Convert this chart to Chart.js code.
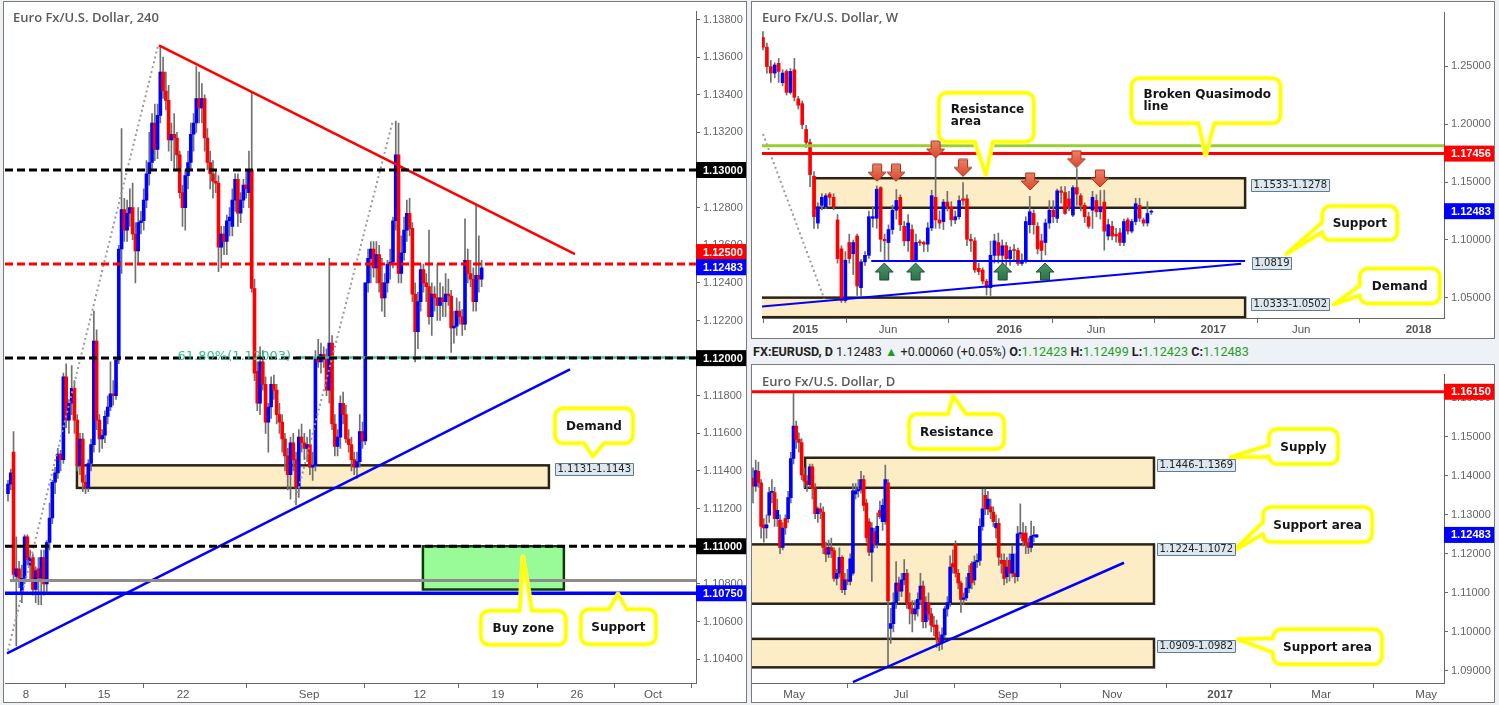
<!DOCTYPE html>
<html>
<head>
<meta charset="utf-8">
<title>EURUSD</title>
<script src="https://cdn.jsdelivr.net/npm/chart.js"></script>
<style>
  html, body { margin: 0; padding: 0; background: #eef2f6; }
  body { width: 1499px; height: 705px; position: relative; overflow: hidden; }
  .panel { position: absolute; background: #fff; border: 1px solid #7a7a7a; }
  .panel canvas { position: absolute; left: 0; top: 0; }
  #p1 { left: 3px; top: 1px; width: 742px; height: 700px; }
  #p2 { left: 751px; top: 1px; width: 742px; height: 336px; }
  #p3 { left: 751px; top: 364px; width: 742px; height: 337px; }
  #hdr { position: absolute; left: 753px; top: 344px; font: 12.6px Roboto, sans-serif; color: #222; white-space: nowrap; }
  #hdr b { font-weight: 700; }
  #hdr .g { color: #1f9e1f; }
</style>
</head>
<body>
<div class="panel" id="p1"><canvas id="c1" width="742" height="700"></canvas></div>
<div class="panel" id="p2"><canvas id="c2" width="742" height="336"></canvas></div>
<div id="hdr"><b>FX:EURUSD, D</b> 1.12483 <span class="g">&#9650;</span> +0.00060 (+0.05%) <b>O:</b><span class="g">1.12423</span> <b>H:</b><span class="g">1.12499</span> <b>L:</b><span class="g">1.12423</span> <b>C:</b><span class="g">1.12483</span></div>
<div class="panel" id="p3"><canvas id="c3" width="742" height="337"></canvas></div>
<script>
// ---------- 4H candles [open, high, low, close] ----------
const h4Aug05 = [
  [1.1128,1.1135,1.1124,1.1133],[1.1133,1.1141,1.1130,1.1139],[1.1150,1.1161,1.1082,1.1085],
  [1.1084,1.1105,1.1047,1.1088],[1.1088,1.1092,1.1078,1.1083],[1.1076,1.1090,1.1070,1.1083],
  [1.1083,1.1106,1.1080,1.1105],[1.1105,1.1106,1.1090,1.1093],[1.1090,1.1098,1.1082,1.1094],
  [1.1094,1.1096,1.1074,1.1077],[1.1077,1.1089,1.1070,1.1087],[1.1088,1.1094,1.1069,1.1083],
  [1.1083,1.1098,1.1069,1.1094],[1.1094,1.1098,1.1074,1.1080],[1.1080,1.1103,1.1076,1.1102],
  [1.1102,1.1123,1.1098,1.1115],[1.1115,1.1135,1.1112,1.1134],[1.1134,1.1142,1.1128,1.1139],
  [1.1139,1.1152,1.1136,1.1149],[1.1149,1.1151,1.1140,1.1146],[1.1146,1.1192,1.1144,1.1190],
  [1.1190,1.1197,1.1163,1.1167],[1.1167,1.1178,1.1160,1.1176],[1.1176,1.1196,1.1170,1.1184],
  [1.1184,1.1188,1.1160,1.1167],[1.1167,1.1170,1.1140,1.1143],[1.1143,1.1160,1.1138,1.1157],
  [1.1157,1.1160,1.1129,1.1134],[1.1134,1.1138,1.1128,1.1131],[1.1131,1.1146,1.1129,1.1144]
];
const h4Aug12 = [
  [1.1144,1.1157,1.1140,1.1154],[1.1154,1.1225,1.1150,1.1209],[1.1209,1.1215,1.1162,1.1167],
  [1.1167,1.1170,1.1150,1.1157],[1.1157,1.1162,1.1152,1.1159],[1.1159,1.1172,1.1155,1.1169],
  [1.1169,1.1180,1.1165,1.1174],[1.1174,1.1198,1.1172,1.1181],[1.1181,1.1188,1.1175,1.1180],
  [1.1180,1.1200,1.1178,1.1199],[1.1199,1.1260,1.1197,1.1258],[1.1258,1.1322,1.1245,1.1279],
  [1.1279,1.1285,1.1262,1.1268],[1.1268,1.1284,1.1262,1.1277],[1.1277,1.1290,1.1270,1.1280],
  [1.1280,1.1293,1.1263,1.1266],[1.1266,1.1272,1.1240,1.1257],[1.1257,1.1280,1.1250,1.1272],
  [1.1272,1.1278,1.1266,1.1273],[1.1273,1.1290,1.1268,1.1284],[1.1284,1.1305,1.1280,1.1298],
  [1.1298,1.1320,1.1292,1.1304],[1.1304,1.1330,1.1300,1.1325],[1.1325,1.1335,1.1305,1.1311],
  [1.1311,1.1335,1.1306,1.1329],[1.1329,1.1366,1.1325,1.1352],[1.1352,1.1360,1.1338,1.1342],
  [1.1342,1.1352,1.1332,1.1337],[1.1337,1.1345,1.1310,1.1316],[1.1316,1.1325,1.1305,1.1319]
];
const h4Aug19 = [
  [1.1319,1.1330,1.1300,1.1317],[1.1317,1.1320,1.1300,1.1308],[1.1308,1.1310,1.1285,1.1288],
  [1.1288,1.1292,1.1270,1.1280],[1.1280,1.1300,1.1268,1.1297],[1.1297,1.1310,1.1290,1.1304],
  [1.1304,1.1325,1.1300,1.1319],[1.1319,1.1330,1.1310,1.1325],[1.1325,1.1355,1.1320,1.1338],
  [1.1338,1.1352,1.1325,1.1333],[1.1333,1.1346,1.1325,1.1338],[1.1338,1.1340,1.1310,1.1317],
  [1.1317,1.1322,1.1300,1.1304],[1.1304,1.1310,1.1290,1.1298],[1.1298,1.1305,1.1285,1.1294],
  [1.1294,1.1300,1.1288,1.1293],[1.1293,1.1297,1.1246,1.1259],[1.1259,1.1270,1.1248,1.1266],
  [1.1266,1.1270,1.1255,1.1262],[1.1262,1.1276,1.1255,1.1273],[1.1273,1.1280,1.1265,1.1275],
  [1.1270,1.1290,1.1265,1.1284],[1.1284,1.1298,1.1278,1.1295],[1.1295,1.1298,1.1270,1.1277],
  [1.1277,1.1288,1.1272,1.1284],[1.1284,1.1295,1.1280,1.1292],[1.1292,1.1300,1.1285,1.1290],
  [1.1288,1.1310,1.1280,1.1300],[1.1300,1.1341,1.1235,1.1237],[1.1237,1.1242,1.1188,1.1192]
];
const h4Aug29 = [
  [1.1193,1.1198,1.1172,1.1176],[1.1176,1.1206,1.1170,1.1198],[1.1198,1.1204,1.1183,1.1186],
  [1.1186,1.1190,1.1160,1.1166],[1.1166,1.1176,1.1150,1.1174],[1.1174,1.1190,1.1168,1.1186],
  [1.1186,1.1191,1.1178,1.1183],[1.1183,1.1186,1.1165,1.1170],[1.1170,1.1176,1.1160,1.1166],
  [1.1166,1.1170,1.1150,1.1157],[1.1157,1.1160,1.1140,1.1148],[1.1148,1.1152,1.1130,1.1138],
  [1.1138,1.1158,1.1125,1.1155],[1.1155,1.1160,1.1140,1.1146],[1.1146,1.1150,1.1122,1.1131],
  [1.1131,1.1162,1.1126,1.1158],[1.1158,1.1165,1.1150,1.1155],[1.1155,1.1160,1.1146,1.1152],
  [1.1152,1.1158,1.1145,1.1154],[1.1154,1.1162,1.1138,1.1142],[1.1142,1.1150,1.1135,1.1143],
  [1.1143,1.1204,1.1140,1.1200],[1.1200,1.1210,1.1195,1.1198],[1.1198,1.1208,1.1192,1.1202],
  [1.1202,1.1206,1.1195,1.1200],[1.1200,1.1205,1.1180,1.1183],[1.1183,1.1253,1.1176,1.1208],
  [1.1208,1.1212,1.1162,1.1165],[1.1165,1.1170,1.1148,1.1153],[1.1153,1.1162,1.1148,1.1158]
];
const h4Sep05 = [
  [1.1158,1.1180,1.1152,1.1176],[1.1176,1.1182,1.1165,1.1170],[1.1170,1.1175,1.1155,1.1157],
  [1.1157,1.1162,1.1150,1.1154],[1.1154,1.1158,1.1140,1.1146],[1.1146,1.1150,1.1138,1.1142],
  [1.1142,1.1150,1.1136,1.1145],[1.1145,1.1170,1.1142,1.1161],[1.1161,1.1166,1.1152,1.1156],
  [1.1156,1.1240,1.1154,1.1240],[1.1240,1.1258,1.1235,1.1253],[1.1253,1.1262,1.1240,1.1258],
  [1.1258,1.1262,1.1243,1.1248],[1.1248,1.1262,1.1240,1.1255],[1.1255,1.1260,1.1235,1.1240],
  [1.1240,1.1253,1.1225,1.1232],[1.1232,1.1245,1.1222,1.1240],[1.1240,1.1252,1.1235,1.1250],
  [1.1250,1.1258,1.1242,1.1251],[1.1251,1.1275,1.1248,1.1273],[1.1273,1.1326,1.1268,1.1308],
  [1.1308,1.1325,1.1240,1.1245],[1.1245,1.1265,1.1240,1.1256],[1.1256,1.1275,1.1252,1.1268],
  [1.1268,1.1284,1.1262,1.1277],[1.1277,1.1285,1.1265,1.1269],[1.1269,1.1272,1.1230,1.1234],
  [1.1234,1.1240,1.1198,1.1214],[1.1214,1.1235,1.1205,1.1230],[1.1230,1.1250,1.1225,1.1247]
];
const h4Sep12 = [
  [1.1247,1.1250,1.1235,1.1240],[1.1240,1.1245,1.1230,1.1238],[1.1238,1.1268,1.1218,1.1222],
  [1.1222,1.1240,1.1212,1.1234],[1.1234,1.1238,1.1225,1.1232],[1.1232,1.1250,1.1220,1.1228],
  [1.1228,1.1240,1.1220,1.1232],[1.1232,1.1238,1.1222,1.1230],[1.1230,1.1245,1.1222,1.1234],
  [1.1234,1.1242,1.1228,1.1233],[1.1233,1.1236,1.1203,1.1216],[1.1216,1.1225,1.1208,1.1217],
  [1.1217,1.1232,1.1212,1.1225],[1.1225,1.1230,1.1218,1.1222],[1.1222,1.1226,1.1212,1.1218],
  [1.1218,1.1274,1.1215,1.1252],[1.1252,1.1258,1.1240,1.1245],[1.1245,1.1252,1.1238,1.1242],
  [1.1242,1.1248,1.1225,1.1230],[1.1230,1.1282,1.1225,1.1244],[1.1244,1.1265,1.1235,1.1242],
  [1.1242,1.1252,1.1238,1.1248]
];
const h4TickPos = [6.5, 34.7, 63.2, 108.7, 148.7, 176.9, 205.4, 232.9];
const h4TickText = ['8', '15', '22', 'Sep', '12', '19', '26', 'Oct'];
const h4PriceTicks = [1.104, 1.106, 1.108, 1.110, 1.112, 1.114, 1.116, 1.118, 1.120,
  1.122, 1.124, 1.126, 1.128, 1.130, 1.132, 1.134, 1.136, 1.138];
const h4DashLevels = [1.1300, 1.1250, 1.1200, 1.1100];
const h4Fib618 = 1.12003;
const h4GrayLevel = 1.10818;
const h4Support = 1.1075;
const h4TrendDown = [[54.5, 1.13663], [204.7, 1.12553]];
const h4TrendUp = [[-0.36, 1.10430], [202.9, 1.11940]];
const h4FibA = [[0, 1.10446], [54.2, 1.13663]];
const h4FibB = [[103.6, 1.11232], [139.0, 1.13265]];
const h4Zones = [[24.9, 195.3, 1.1131, 1.1143], [149.8, 200.7, 1.1077, 1.1100]];

// ---------- weekly candles ----------
const wk2014 = [
  [1.2748,1.2800,1.2640,1.2664],[1.2664,1.2700,1.2440,1.2497],[1.2497,1.2550,1.2360,1.2441],
  [1.2441,1.2530,1.2400,1.2511],[1.2525,1.2567,1.2360,1.2455],[1.2358,1.2470,1.2330,1.2441],
  [1.2455,1.2470,1.2250,1.2274],[1.2274,1.2480,1.2260,1.2455],[1.2469,1.2567,1.2200,1.2232],
  [1.2218,1.2240,1.2130,1.2163],[1.2177,1.2200,1.1960,1.1996],[1.1954,1.1990,1.1800,1.1842],
  [1.1842,1.1870,1.1460,1.1564],[1.1550,1.1590,1.1100,1.1201],[1.1146,1.1320,1.1100,1.1285],
  [1.1299,1.1400,1.1260,1.1368],[1.1285,1.1400,1.1270,1.1382],[1.1396,1.1410,1.1300,1.1368],
  [1.1368,1.1400,1.1260,1.1285],[1.1173,1.1220,1.0800,1.0839],[1.0923,1.0950,1.0460,1.0477],
  [1.0477,1.0900,1.0460,1.0825],[1.0978,1.1050,1.0800,1.0839],[1.0881,1.1000,1.0700,1.0978],
  [1.1034,1.1050,1.0520,1.0602]
];
const wk2015a = [
  [1.0588,1.0830,1.0520,1.0811],[1.0811,1.0900,1.0780,1.0867],[1.0867,1.1250,1.0840,1.1201],
  [1.1187,1.1290,1.1110,1.1201],[1.1187,1.1467,1.1100,1.1438],[1.1452,1.1460,1.0900,1.1006],
  [1.1006,1.1050,1.0819,1.0992],[1.0978,1.1130,1.0820,1.1090],[1.1090,1.1300,1.1050,1.1257],
  [1.1257,1.1436,1.1180,1.1341],[1.1368,1.1390,1.1080,1.1132],[1.1118,1.1160,1.0950,1.0992],
  [1.0992,1.1220,1.0900,1.1146],[1.1090,1.1130,1.0810,1.0825],[1.0825,1.1050,1.0810,1.0978],
  [1.0985,1.1000,1.0950,1.0975],[1.0978,1.0990,1.0900,1.0964],[1.0964,1.1150,1.0900,1.1104],
  [1.1104,1.1430,1.1080,1.1382],[1.1368,1.1714,1.1100,1.1173],[1.1173,1.1250,1.1100,1.1146],
  [1.1159,1.1350,1.1090,1.1327],[1.1327,1.1420,1.1250,1.1285],[1.1285,1.1330,1.1120,1.1173],
  [1.1173,1.1250,1.1140,1.1201]
];
const wk2015b = [
  [1.1201,1.1380,1.1180,1.1341],[1.1355,1.1495,1.1300,1.1341],[1.1355,1.1390,1.0950,1.1006],
  [1.1006,1.1050,1.0900,1.0992],[1.0992,1.1020,1.0720,1.0741],[1.0755,1.0800,1.0700,1.0727],
  [1.0741,1.0760,1.0620,1.0644],[1.0644,1.0660,1.0524,1.0588],[1.0588,1.0990,1.0520,1.0867],
  [1.0867,1.1050,1.0800,1.0992],[1.0978,1.1060,1.0800,1.0867],[1.0867,1.1000,1.0710,1.0950],
  [1.0950,1.0980,1.0780,1.0839],[1.0839,1.0940,1.0780,1.0909],[1.0917,1.0960,1.0820,1.0909],
  [1.0909,1.0930,1.0780,1.0797],[1.0797,1.0880,1.0780,1.0825],[1.0825,1.1200,1.0800,1.1159],
  [1.1132,1.1376,1.1060,1.1243],[1.1229,1.1260,1.1050,1.1132],[1.1118,1.1150,1.0880,1.0923],
  [1.0992,1.1050,1.0822,1.0909],[1.0978,1.1180,1.0870,1.1146],[1.1146,1.1340,1.1100,1.1257],
  [1.1257,1.1340,1.1150,1.1201]
];
const wk2016 = [
  [1.1187,1.1440,1.1150,1.1424],[1.1424,1.1460,1.1320,1.1410],[1.1410,1.1460,1.1220,1.1229],
  [1.1355,1.1420,1.1250,1.1285],[1.1215,1.1470,1.1200,1.1452],[1.1452,1.1616,1.1300,1.1396],
  [1.1382,1.1400,1.1250,1.1299],[1.1299,1.1320,1.1150,1.1201],[1.1201,1.1240,1.1100,1.1118],
  [1.1257,1.1420,1.1100,1.1368],[1.1341,1.1390,1.1200,1.1243],[1.1243,1.1427,1.1180,1.1285],
  [1.1327,1.1430,1.0912,1.1076],[1.1034,1.1180,1.1000,1.1132],[1.1118,1.1160,1.1000,1.1034],
  [1.1048,1.1100,1.0980,1.1034],[1.1062,1.1100,1.0950,1.0978],[1.0978,1.1180,1.0950,1.1159],
  [1.1173,1.1190,1.1050,1.1076],[1.1076,1.1180,1.1060,1.1159],[1.1159,1.1360,1.1130,1.1313],
  [1.1299,1.1360,1.1160,1.1187],[1.1173,1.1190,1.1120,1.1146],[1.1146,1.1330,1.1120,1.1229],
  [1.1240,1.1260,1.1220,1.1248]
];
const wkTickPos = [10.8, 31.9, 62.8, 84.9, 114.8, 137.2, 167.1];
const wkTickText = ['2015', 'Jun', '2016', 'Jun', '2017', 'Jun', '2018'];
const wkPriceTicks = [1.05, 1.10, 1.15, 1.20, 1.25];
const wkGreenLevel = 1.1814;
const wkRedLevel = 1.17456;
const wkSupport = [[27.6, 1.0819], [122.9, 1.0819]];
const wkTrend = [[-0.25, 1.04264], [121.9, 1.07943]];
const wkFib = [[0, 1.19147], [15.6, 1.04933]];
const wkZones = [[13.1, 122.9, 1.1278, 1.1533], [-2, 122.9, 1.0333, 1.0502]];
const wkDownArrows = [[29.1, 1.15803], [33.9, 1.15803], [44.0, 1.17809], [51.0, 1.16221],
  [68.1, 1.15050], [79.9, 1.16973], [85.9, 1.15301]];
const wkUpArrows = [[30.9, 1.07274], [38.9, 1.07274], [61.1, 1.07274], [71.9, 1.07274]];

// ---------- daily candles ----------
const dAprMay = [
  [1.1394,1.1420,1.1330,1.1373],[1.1373,1.1440,1.1360,1.1413],[1.1411,1.1435,1.1370,1.1382],
  [1.1382,1.1390,1.1240,1.1270],[1.1274,1.1290,1.1230,1.1266],[1.1266,1.1300,1.1240,1.1274],
  [1.1299,1.1370,1.1280,1.1357],[1.1357,1.1390,1.1330,1.1360],[1.1357,1.1370,1.1270,1.1290],
  [1.1290,1.1340,1.1270,1.1311],[1.1286,1.1300,1.1200,1.1216],[1.1216,1.1280,1.1210,1.1266],
  [1.1290,1.1300,1.1250,1.1266],[1.1290,1.1360,1.1280,1.1344],[1.1344,1.1460,1.1330,1.1444],
  [1.1444,1.1614,1.1430,1.1527],[1.1527,1.1540,1.1470,1.1493],[1.1493,1.1510,1.1460,1.1485],
  [1.1485,1.1495,1.1390,1.1402],[1.1402,1.1420,1.1370,1.1386],[1.1386,1.1400,1.1360,1.1377],
  [1.1377,1.1430,1.1370,1.1423],[1.1423,1.1430,1.1340,1.1369],[1.1369,1.1380,1.1290,1.1303],
  [1.1303,1.1320,1.1280,1.1315],[1.1315,1.1330,1.1290,1.1307],[1.1307,1.1320,1.1200,1.1216]
];
const dMayJun = [
  [1.1216,1.1230,1.1180,1.1199],[1.1199,1.1235,1.1190,1.1216],[1.1216,1.1240,1.1190,1.1208],
  [1.1208,1.1215,1.1130,1.1137],[1.1137,1.1160,1.1120,1.1150],[1.1150,1.1215,1.1140,1.1191],
  [1.1191,1.1195,1.1100,1.1108],[1.1108,1.1150,1.1095,1.1133],[1.1133,1.1160,1.1120,1.1129],
  [1.1129,1.1200,1.1120,1.1187],[1.1150,1.1380,1.1145,1.1361],[1.1353,1.1380,1.1340,1.1361],
  [1.1361,1.1390,1.1345,1.1365],[1.1365,1.1411,1.1355,1.1390],[1.1390,1.1400,1.1310,1.1324],
  [1.1330,1.1340,1.1230,1.1241],[1.1282,1.1290,1.1195,1.1204],[1.1204,1.1280,1.1129,1.1266],
  [1.1257,1.1265,1.1215,1.1224],[1.1224,1.1305,1.1215,1.1270],[1.1311,1.1335,1.1290,1.1295],
  [1.1282,1.1340,1.1260,1.1324],[1.1282,1.1427,1.1275,1.1390],[1.1382,1.1390,1.0912,1.1079],
  [1.1009,1.1060,1.0970,1.1021],[1.1021,1.1100,1.1000,1.1075],[1.1075,1.1180,1.1060,1.1125]
];
const dJulAug = [
  [1.1125,1.1140,1.1080,1.1104],[1.1104,1.1150,1.1090,1.1133],[1.1133,1.1185,1.1120,1.1150],
  [1.1150,1.1160,1.1060,1.1075],[1.1075,1.1100,1.1020,1.1059],[1.1059,1.1080,1.1000,1.1046],
  [1.1046,1.1080,1.1030,1.1059],[1.1059,1.1100,1.1040,1.1083],[1.1083,1.1150,1.1070,1.1117],
  [1.1117,1.1130,1.1010,1.1026],[1.1026,1.1090,1.1010,1.1075],[1.1075,1.1100,1.1030,1.1046],
  [1.1046,1.1060,1.1000,1.1017],[1.1017,1.1040,1.0990,1.1013],[1.1017,1.1030,1.0960,1.0984],
  [1.0984,1.1000,1.0952,1.0972],[1.0972,1.1010,1.0955,1.0992],[1.0992,1.1065,1.0985,1.1059],
  [1.1059,1.1090,1.1040,1.1075],[1.1075,1.1195,1.1065,1.1166],[1.1175,1.1210,1.1150,1.1166],
  [1.1224,1.1233,1.1140,1.1150],[1.1150,1.1160,1.1110,1.1125],[1.1125,1.1130,1.1050,1.1083],
  [1.1083,1.1100,1.1070,1.1087],[1.1087,1.1140,1.1080,1.1112],[1.1112,1.1170,1.1100,1.1150]
];
const dAugSep = [
  [1.1175,1.1180,1.1110,1.1125],[1.1133,1.1195,1.1120,1.1179],[1.1179,1.1200,1.1165,1.1183],
  [1.1183,1.1290,1.1170,1.1270],[1.1270,1.1365,1.1260,1.1315],[1.1350,1.1366,1.1300,1.1315],
  [1.1315,1.1360,1.1300,1.1340],[1.1320,1.1340,1.1290,1.1307],[1.1307,1.1320,1.1270,1.1282],
  [1.1266,1.1300,1.1240,1.1278],[1.1278,1.1290,1.1170,1.1191],[1.1183,1.1200,1.1150,1.1175],
  [1.1183,1.1200,1.1120,1.1137],[1.1141,1.1190,1.1125,1.1166],[1.1183,1.1200,1.1130,1.1150],
  [1.1150,1.1220,1.1140,1.1199],[1.1150,1.1200,1.1125,1.1141],[1.1141,1.1270,1.1130,1.1251],
  [1.1251,1.1328,1.1240,1.1253],[1.1253,1.1280,1.1220,1.1233],[1.1253,1.1270,1.1200,1.1228],
  [1.1228,1.1240,1.1200,1.1216],[1.1216,1.1284,1.1205,1.1245],[1.1245,1.1270,1.1230,1.1245],
  [1.12423,1.12499,1.12423,1.12483]
];
const dTickPos = [15.2, 54.8, 94.4, 133.0, 173.0, 210.4, 249.3];
const dTickText = ['May', 'Jul', 'Sep', 'Nov', '2017', 'Mar', 'May'];
const dPriceTicks = [1.09, 1.10, 1.11, 1.12, 1.13, 1.14, 1.15, 1.16];
const dResistance = 1.1615;
const dTrend = [[37.0, 1.08714], [137.4, 1.11770]];
const dZones = [[19.3, 148.5, 1.1369, 1.1446], [-2, 148.5, 1.1072, 1.1224], [-2, 148.5, 1.0909, 1.0982]];

const lastClose = 1.12483;

// ---------- drawing helpers ----------
const RED = '#ff0000', BLUE = '#0000ff', WICK = '#707070';
Chart.defaults.font.family = '"Liberation Sans", Arial, sans-serif';

function candleSets(candles, body) {
  return [
    { type: 'bar', order: 6, grouped: false, barThickness: 1, backgroundColor: WICK,
      data: candles.map((c, i) => ({ x: i, y: [c[2], c[1]] })) },
    { type: 'bar', order: 5, grouped: false, barThickness: body, minBarLength: 1,
      backgroundColor: candles.map(c => (c[3] >= c[0] ? BLUE : RED)),
      data: candles.map((c, i) => ({ x: i, y: [c[0], c[3]] })) }
  ];
}

function lineSet(pts, color, width, dash) {
  return { type: 'line', order: 1, data: pts.map(p => ({ x: p[0], y: p[1] })),
    borderColor: color, borderWidth: width, borderDash: dash || [], pointRadius: 0, fill: false };
}

function arrowImg(dir, c1, c2, edge) {
  const cv = document.createElement('canvas');
  cv.width = 20; cv.height = 19;
  const g = cv.getContext('2d');
  g.beginPath();
  if (dir === 'down') {
    g.moveTo(5.5, 1); g.lineTo(14.5, 1); g.lineTo(14.5, 9); g.lineTo(19, 9); g.lineTo(10, 18); g.lineTo(1, 9); g.lineTo(5.5, 9);
  } else {
    g.moveTo(10, 1); g.lineTo(19, 10); g.lineTo(14.5, 10); g.lineTo(14.5, 18); g.lineTo(5.5, 18); g.lineTo(5.5, 10); g.lineTo(1, 10);
  }
  g.closePath();
  const grad = g.createLinearGradient(0, 0, 0, 19);
  grad.addColorStop(0, c1); grad.addColorStop(1, c2);
  g.fillStyle = grad; g.fill();
  g.strokeStyle = edge; g.lineWidth = 1; g.stroke();
  return cv;
}

function arrowSet(pts, img) {
  return { type: 'scatter', order: 0, data: pts.map(p => ({ x: p[0], y: p[1] })),
    pointStyle: img, pointRadius: 9 };
}

function bubblePath(ctx, bx, by, w, h, r, side, at, bw, tx, ty) {
  ctx.beginPath();
  ctx.moveTo(bx + r, by);
  if (side === 'top') { ctx.lineTo(bx + at - bw / 2, by); ctx.lineTo(tx, ty); ctx.lineTo(bx + at + bw / 2, by); }
  ctx.lineTo(bx + w - r, by); ctx.arcTo(bx + w, by, bx + w, by + r, r);
  ctx.lineTo(bx + w, by + h - r); ctx.arcTo(bx + w, by + h, bx + w - r, by + h, r);
  if (side === 'bottom') { ctx.lineTo(bx + at + bw / 2, by + h); ctx.lineTo(tx, ty); ctx.lineTo(bx + at - bw / 2, by + h); }
  ctx.lineTo(bx + r, by + h); ctx.arcTo(bx, by + h, bx, by + h - r, r);
  if (side === 'left') { ctx.lineTo(bx, by + at + bw / 2); ctx.lineTo(tx, ty); ctx.lineTo(bx, by + at - bw / 2); }
  ctx.lineTo(bx, by + r); ctx.arcTo(bx, by, bx + r, by, r);
  ctx.closePath();
}

function annot(o) {
  return {
    id: 'annot',
    beforeDatasetsDraw(chart) {
      const { ctx, chartArea: a, scales: { x, y } } = chart;
      ctx.save();
      ctx.beginPath(); ctx.rect(a.left, a.top, a.right - a.left, a.bottom - a.top); ctx.clip();
      ctx.font = '600 13px "Open Sans"';
      ctx.fillStyle = '#5a5a5a'; ctx.textBaseline = 'middle'; ctx.textAlign = 'left';
      ctx.fillText(o.title, o.titlePos[0], o.titlePos[1]);
      o.zones.forEach((z, k) => {
        const st = o.zoneStyle[k];
        const x1 = x.getPixelForValue(z[0]), x2 = x.getPixelForValue(z[1]);
        const y1 = y.getPixelForValue(z[3]), y2 = y.getPixelForValue(z[2]);
        ctx.fillStyle = st.fill; ctx.fillRect(x1, y1, x2 - x1, y2 - y1);
        ctx.strokeStyle = st.stroke; ctx.lineWidth = st.lw; ctx.strokeRect(x1, y1, x2 - x1, y2 - y1);
      });
      ctx.restore();
    },
    afterDatasetsDraw(chart) {
      const { ctx, scales: { x, y } } = chart;
      ctx.save();
      if (o.fibText) {
        ctx.font = '13px "DejaVu Sans"'; ctx.fillStyle = '#33c08f';
        ctx.textAlign = 'right'; ctx.textBaseline = 'middle';
        ctx.fillText(o.fibText.text, x.getPixelForValue(o.fibText.x) - 5, y.getPixelForValue(o.fibText.y) - 1);
      }
      // callout bubbles
      o.bubbles.forEach(b => {
        const tx = x.getPixelForValue(b.tip[0]), ty = y.getPixelForValue(b.tip[1]);
        const bx = tx + b.box[0], by = ty + b.box[1], w = b.box[2], h = b.box[3];
        bubblePath(ctx, bx, by, w, h, 8, b.side, b.at, b.bw, tx, ty);
        ctx.fillStyle = '#fff'; ctx.fill();
        ctx.lineJoin = 'round';
        ctx.strokeStyle = 'rgba(255,255,120,0.9)'; ctx.lineWidth = 5; ctx.stroke();
        ctx.strokeStyle = '#ffff00'; ctx.lineWidth = 3; ctx.stroke();
        ctx.font = 'bold 12px "DejaVu Sans"'; ctx.fillStyle = '#151515'; ctx.textBaseline = 'middle';
        if (b.lines.length === 1) {
          ctx.textAlign = 'center';
          ctx.fillText(b.lines[0], bx + w / 2, by + h / 2 + 1);
        } else {
          ctx.textAlign = 'left';
          b.lines.forEach((s, k) => ctx.fillText(s, bx + 12, by + 17 + k * 12));
        }
      });
      // range labels next to zones and lines
      ctx.font = '10px "DejaVu Sans"'; ctx.textBaseline = 'middle'; ctx.textAlign = 'left';
      o.rangeTags.forEach(t => {
        const px = Math.round(x.getPixelForValue(t.x) + t.dx), py = Math.round(y.getPixelForValue(t.y) + t.dy);
        const w = Math.round(ctx.measureText(t.text).width + 4);
        ctx.fillStyle = '#dde7ef'; ctx.fillRect(px, py - 6, w, 13);
        ctx.strokeStyle = '#627c8e'; ctx.lineWidth = 1; ctx.strokeRect(px + 0.5, py - 5.5, w, 12);
        ctx.fillStyle = '#222'; ctx.fillText(t.text, px + 2.5, py + 0.5);
      });
      ctx.restore();
    },
    afterDraw(chart) {
      const { ctx, chartArea: a, scales: { y } } = chart;
      ctx.save();
      ctx.font = 'bold 11px "Liberation Sans"'; ctx.textBaseline = 'middle'; ctx.textAlign = 'left';
      o.axisTags.forEach(t => {
        const py = y.getPixelForValue(t.v) + (t.dy || 0);
        ctx.fillStyle = t.bg; ctx.fillRect(a.right, py - 8, chart.width - a.right, 16);
        ctx.fillStyle = '#fff'; ctx.fillText(t.v.toFixed(5), a.right + 7, py + 0.5);
      });
      ctx.restore();
    }
  };
}

function axes(o) {
  return {
    x: {
      type: 'linear', min: o.xMin, max: o.xMax, offset: false,
      grid: { drawOnChartArea: false, drawTicks: true, tickLength: 5, color: '#666' },
      border: { display: true, color: '#666', width: 1 },
      ticks: {
        autoSkip: false, maxRotation: 0, padding: 0, color: '#555',
        font: ctx => ({ size: 11.5, weight: /^\d{4}$/.test(ctx.tick ? ctx.tick.label : '') ? 'bold' : 'normal' }),
        callback: v => { const k = o.tickPos.indexOf(v); return k >= 0 ? o.tickText[k] : ''; }
      },
      afterBuildTicks: s => { s.ticks = o.tickPos.map(v => ({ value: v })); },
      afterFit: s => { s.height = o.xAxisH; }
    },
    y: {
      type: 'linear', position: 'right', min: o.yMin, max: o.yMax,
      grid: { drawOnChartArea: false, drawTicks: true, tickLength: 4, color: '#666' },
      border: { display: true, color: '#666', width: 1 },
      ticks: { autoSkip: false, padding: 3, color: '#666', font: { size: 11 }, callback: v => v.toFixed(5) },
      afterBuildTicks: s => { s.ticks = o.priceTicks.map(v => ({ value: v })); },
      afterFit: s => { s.width = 50; }
    }
  };
}

function build(id, o) {
  return new Chart(document.getElementById(id), {
    type: 'bar',
    data: { datasets: o.datasets },
    options: {
      responsive: false, animation: false, events: [],
      layout: { padding: { left: o.padLeft, right: 0, top: 0, bottom: 0 } },
      plugins: { legend: { display: false }, tooltip: { enabled: false } },
      scales: axes(o)
    },
    plugins: [annot(o)]
  });
}

const wheat = { fill: '#fdedc6', stroke: '#2a2417', lw: 2.5 };
const dash = [8, 4];

// ---------- 4H chart ----------
const h4Candles = [...h4Aug05, ...h4Aug12, ...h4Aug19, ...h4Aug29, ...h4Sep05, ...h4Sep12];
const h4X = [-1.08, 248.4];
build('c1', {
  xMin: h4X[0], xMax: h4X[1], yMin: 1.10273, yMax: 1.13842, padLeft: 1, xAxisH: 19,
  tickPos: h4TickPos, tickText: h4TickText, priceTicks: h4PriceTicks,
  title: 'Euro Fx/U.S. Dollar, 240', titlePos: [9, 16],
  datasets: [
    ...candleSets(h4Candles, 3),
    lineSet([[h4X[0], h4DashLevels[0]], [h4X[1], h4DashLevels[0]]], '#000', 3, dash),
    lineSet([[h4X[0], h4DashLevels[1]], [h4X[1], h4DashLevels[1]]], RED, 3, dash),
    lineSet([[h4X[0], h4DashLevels[2]], [h4X[1], h4DashLevels[2]]], '#000', 3, dash),
    lineSet([[h4X[0], h4DashLevels[3]], [h4X[1], h4DashLevels[3]]], '#000', 3, dash),
    lineSet([[104, h4Fib618], [h4X[1], h4Fib618]], '#3cc095', 2.5),
    lineSet([[0.7, h4GrayLevel], [h4X[1], h4GrayLevel]], '#8c8c8c', 3),
    lineSet([[h4X[0], h4Support], [h4X[1], h4Support]], BLUE, 3.5),
    lineSet(h4TrendDown, RED, 2.5),
    lineSet(h4TrendUp, BLUE, 2.5),
    lineSet(h4FibA, '#9a9a9a', 2, [2, 3]),
    lineSet(h4FibB, '#9a9a9a', 2, [2, 3])
  ],
  zones: h4Zones,
  zoneStyle: [wheat, { fill: '#98fb98', stroke: '#0c3b0c', lw: 2.5 }],
  fibText: { text: '61.80%(1.12003)', x: 104, y: h4Fib618 },
  rangeTags: [{ x: h4Zones[0][1], y: h4Zones[0][3], dx: 6, dy: 4, text: '1.1131-1.1143' }],
  bubbles: [
    { tip: [211.2, 1.11478], box: [-38, -48, 78, 35], side: 'bottom', at: 39, bw: 20, lines: ['Demand'] },
    { tip: [185.9, 1.10944], box: [-42, 54, 85, 34], side: 'top', at: 45, bw: 12, lines: ['Buy zone'] },
    { tip: [220.2, 1.10745], box: [-37, 15, 75, 35], side: 'top', at: 37, bw: 18, lines: ['Support'] }
  ],
  axisTags: [
    { v: h4DashLevels[0], bg: '#000' }, { v: h4DashLevels[1], bg: RED, dy: -12 },
    { v: lastClose, bg: BLUE }, { v: h4DashLevels[2], bg: '#000' },
    { v: h4DashLevels[3], bg: '#000' }, { v: h4Support, bg: BLUE }
  ]
});

// ---------- weekly chart ----------
const wkCandles = [...wk2014, ...wk2015a, ...wk2015b, ...wk2016];
const wkX = [-0.25, 173.6];
const downImg = arrowImg('down', '#f0836a', '#d4452a', '#a8361f');
const upImg = arrowImg('up', '#4f9a6c', '#2c6e47', '#1d4f31');
build('c2', {
  xMin: wkX[0], xMax: wkX[1], yMin: 1.03261, yMax: 1.29682, padLeft: 0, xAxisH: 20,
  tickPos: wkTickPos, tickText: wkTickText, priceTicks: wkPriceTicks,
  title: 'Euro Fx/U.S. Dollar, W', titlePos: [10, 16],
  datasets: [
    ...candleSets(wkCandles, 3),
    lineSet([[wkX[0], wkGreenLevel], [wkX[1], wkGreenLevel]], '#9acd32', 3),
    lineSet([[wkX[0], wkRedLevel], [wkX[1], wkRedLevel]], RED, 3),
    lineSet(wkSupport, BLUE, 2),
    lineSet(wkTrend, BLUE, 2),
    lineSet(wkFib, '#9a9a9a', 2, [2, 3]),
    arrowSet(wkDownArrows, downImg),
    arrowSet(wkUpArrows, upImg)
  ],
  zones: wkZones,
  zoneStyle: [wheat, wheat],
  rangeTags: [
    { x: wkZones[0][1], y: wkZones[0][3], dx: 6, dy: 7, text: '1.1533-1.1278' },
    { x: wkSupport[1][0], y: wkSupport[1][1], dx: 7, dy: 2, text: '1.0819' },
    { x: wkZones[1][1], y: wkZones[1][3], dx: 6, dy: 6, text: '1.0333-1.0502' }
  ],
  bubbles: [
    { tip: [56.8, 1.15636], box: [-47, -82, 95, 49], side: 'bottom', at: 45, bw: 18, lines: ['Resistance', 'area'] },
    { tip: [112.8, 1.17308], box: [-74, -77, 149, 45], side: 'bottom', at: 75, bw: 16, lines: ['Broken Quasimodo', 'line'] },
    { tip: [133.4, 1.08779], box: [36, -48, 75, 34], side: 'left', at: 21, bw: 10, lines: ['Support'] },
    { tip: [145.5, 1.04431], box: [26, -36, 80, 35], side: 'left', at: 22, bw: 10, lines: ['Demand'] }
  ],
  axisTags: [{ v: wkRedLevel, bg: RED }, { v: lastClose, bg: BLUE }]
});

// ---------- daily chart ----------
const dCandles = [...dAprMay, ...dMayJun, ...dJulAug, ...dAugSep];
const dX = [-0.37, 255.9];
build('c3', {
  xMin: dX[0], xMax: dX[1], yMin: 1.08689, yMax: 1.16590, padLeft: 0, xAxisH: 19,
  tickPos: dTickPos, tickText: dTickText, priceTicks: dPriceTicks,
  title: 'Euro Fx/U.S. Dollar, D', titlePos: [10, 17],
  datasets: [
    ...candleSets(dCandles, 3),
    lineSet([[dX[0], dResistance], [dX[1], dResistance]], RED, 3),
    lineSet(dTrend, BLUE, 2.5)
  ],
  zones: dZones,
  zoneStyle: [wheat, wheat, wheat],
  rangeTags: [
    { x: dZones[0][1], y: dZones[0][3], dx: 3, dy: 7, text: '1.1446-1.1369' },
    { x: dZones[1][1], y: dZones[1][3], dx: 3, dy: 5, text: '1.1224-1.1072' },
    { x: dZones[2][1], y: dZones[2][3], dx: 3, dy: 7, text: '1.0909-1.0982' }
  ],
  bubbles: [
    { tip: [74.1, 1.16043], box: [-44, 18, 95, 35], side: 'top', at: 48, bw: 18, lines: ['Resistance'] },
    { tip: [177.0, 1.14478], box: [38, -28, 69, 35], side: 'left', at: 22, bw: 12, lines: ['Supply'] },
    { tip: [177.8, 1.12068], box: [30, -44, 109, 35], side: 'left', at: 21, bw: 12, lines: ['Support area'] },
    { tip: [179.6, 1.09807], box: [35, -10, 109, 35], side: 'left', at: 16, bw: 14, lines: ['Support area'] }
  ],
  axisTags: [{ v: dResistance, bg: RED }, { v: lastClose, bg: BLUE }]
});
</script>
</body>
</html>
